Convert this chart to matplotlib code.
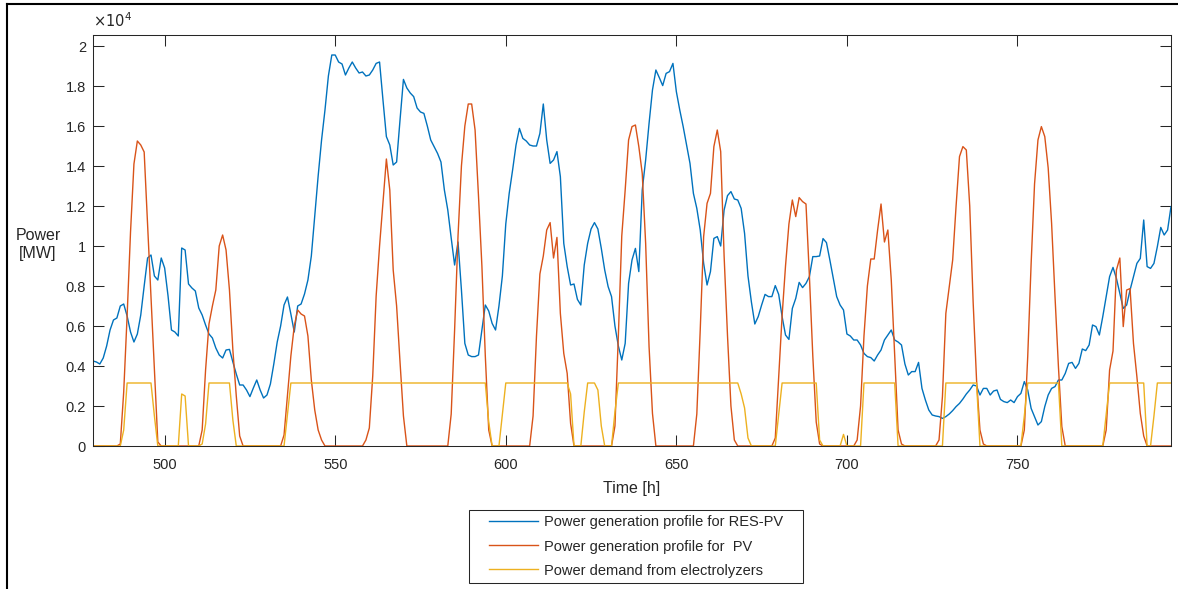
import numpy as np
import matplotlib
matplotlib.use("Agg")
import matplotlib.pyplot as plt
from matplotlib.lines import Line2D
from matplotlib.patches import Rectangle
from matplotlib.ticker import FuncFormatter

plt.rcParams['font.family'] = ['Liberation Sans', 'DejaVu Sans']

# hourly series, 479 h .. 795 h, values in MW
hours = np.arange(479, 796)

res_pv = [
    4250, 4200, 4100, 4400, 5000, 5800, 6300, 6400, 7000, 7100,
    6500, 5700, 5200, 5600, 6550, 8000, 9400, 9550, 8500, 8300,
    9400, 8900, 7500, 5800, 5700, 5500, 9900, 9800, 8100, 7900,
    7750, 6900, 6550, 6050, 5600, 5400, 4900, 4550, 4400, 4800,
    4830, 4200, 3600, 3050, 3050, 2800, 2470, 2900, 3300, 2800,
    2400, 2550, 3100, 4100, 5200, 6000, 7050, 7450, 6600, 5700,
    7000, 7100, 7600, 8300, 9500, 11500, 13500, 15300, 16800, 18500,
    19550, 19550, 19200, 19100, 18550, 18900, 19200, 18900, 18650, 18700,
    18500, 18550, 18800, 19130, 19200, 17300, 15470, 15050, 14050, 14200,
    16300, 18330, 17900, 17650, 17470, 16900, 16700, 16630, 16000, 15300,
    14970, 14630, 14200, 12800, 11800, 10400, 9050, 10200, 7800, 5130,
    4550, 4470, 4470, 4550, 5800, 7050, 6750, 6130, 5800, 7000,
    8500, 11100, 12630, 13800, 15050, 15880, 15380, 15250, 15050, 15000,
    15000, 15630, 17100, 15300, 14130, 14300, 14720, 13470, 10130, 8970,
    8050, 8100, 7330, 7050, 9050, 10130, 10850, 11170, 10850, 9880,
    8800, 7970, 7470, 6000, 5000, 4300, 5130, 8130, 9300, 9880,
    8720, 12800, 14300, 16130, 17800, 18800, 18420, 18020, 18630, 18720,
    19130, 17720, 16800, 15970, 15050, 14130, 12630, 11880, 10800, 9130,
    8050, 8720, 10380, 10470, 10000, 11800, 12520, 12720, 12350, 12300,
    11880, 10630, 8500, 7200, 6100, 6470, 7050, 7580, 7470, 7470,
    8020, 7580, 6470, 5550, 5330, 6880, 7380, 8180, 7920, 8130,
    8470, 9470, 9470, 9500, 10370, 10170, 9300, 8380, 7470, 7050,
    6800, 5600, 5500, 5300, 5300, 5050, 4630, 4470, 4420, 4250,
    4550, 4800, 5300, 5550, 5800, 5300, 5200, 5050, 4100, 3550,
    3720, 3720, 4180, 2880, 2300, 1800, 1550, 1500, 1470, 1380,
    1470, 1600, 1770, 1970, 2130, 2350, 2600, 2800, 3050, 3000,
    2550, 2880, 2880, 2550, 2750, 2800, 2330, 2220, 2170, 2300,
    2170, 2470, 2630, 3220, 2800, 1880, 1470, 1050, 1220, 1970,
    2550, 2880, 2970, 3300, 3300, 3630, 4130, 4180, 3880, 4130,
    4850, 4770, 5050, 6050, 5970, 5550, 6470, 7470, 8470, 8930,
    8380, 7630, 6880, 7050, 7800, 8470, 9130, 9380, 11300, 8970,
    8880, 9130, 9970, 10930, 10550, 10800, 11970,
]

pv = [
    0, 0, 0, 0, 0, 0, 0, 0, 100, 2700,
    6500, 10700, 14100, 15250, 15050, 14700, 11100, 7470, 3850, 200,
    0, 0, 0, 0, 0, 0, 0, 0, 0, 0,
    0, 0, 800, 3800, 6100, 7000, 7800, 10000, 10550, 9800,
    7800, 4800, 2500, 500, 0, 0, 0, 0, 0, 0,
    0, 0, 0, 0, 0, 0, 550, 2500, 4500, 6000,
    6800, 6600, 6500, 5500, 3300, 1800, 800, 300, 0, 0,
    0, 0, 0, 0, 0, 0, 0, 0, 0, 0,
    300, 900, 3500, 7500, 10000, 12200, 14350, 12800, 8800, 7000,
    4200, 1500, 0, 0, 0, 0, 0, 0, 0, 0,
    0, 0, 0, 0, 0, 1600, 5800, 10500, 14000, 16000,
    17100, 17100, 15800, 12500, 9000, 4500, 800, 0, 0, 0,
    0, 0, 0, 0, 0, 0, 0, 0, 0, 1500,
    5500, 8600, 9500, 10800, 11170, 9400, 10430, 6630, 4630, 3630,
    1130, 0, 0, 0, 0, 0, 0, 0, 0, 0,
    0, 0, 0, 1000, 5500, 10500, 12800, 15300, 15970, 16050,
    14970, 13630, 10130, 4970, 1630, 0, 0, 0, 0, 0,
    0, 0, 0, 0, 0, 0, 0, 1600, 5800, 10470,
    12130, 12630, 14970, 15800, 14720, 9500, 5500, 2000, 300, 0,
    0, 0, 0, 0, 0, 0, 0, 0, 0, 0,
    400, 3500, 6500, 9000, 11100, 12300, 11470, 12420, 12220, 12100,
    8500, 4500, 1200, 100, 0, 0, 0, 0, 0, 0,
    0, 0, 0, 0, 300, 2000, 5500, 8000, 9350, 9350,
    10800, 12100, 10200, 10800, 8300, 4500, 800, 100, 0, 0,
    0, 0, 0, 0, 0, 0, 0, 0, 300, 2470,
    6630, 7970, 9300, 12000, 14470, 14970, 14800, 12000, 7200, 3300,
    800, 100, 0, 0, 0, 0, 0, 0, 0, 0,
    0, 0, 0, 800, 4470, 9130, 13100, 15300, 15970, 15470,
    13900, 11130, 7470, 3970, 970, 0, 0, 0, 0, 0,
    0, 0, 0, 0, 0, 0, 0, 800, 3800, 4750,
    8800, 9400, 5970, 7800, 7870, 5130, 3470, 1630, 500, 0,
    0, 0, 0, 0, 0, 0, 0,
]

electrolyzers = [
    0, 0, 0, 0, 0, 0, 0, 0, 0, 800,
    3150, 3150, 3150, 3150, 3150, 3150, 3150, 3150, 1500, 0,
    0, 0, 0, 0, 0, 0, 2600, 2500, 0, 0,
    0, 0, 100, 1100, 3150, 3150, 3150, 3150, 3150, 3150,
    3150, 1300, 0, 0, 0, 0, 0, 0, 0, 0,
    0, 0, 0, 0, 0, 0, 0, 1600, 3150, 3150,
    3150, 3150, 3150, 3150, 3150, 3150, 3150, 3150, 3150, 3150,
    3150, 3150, 3150, 3150, 3150, 3150, 3150, 3150, 3150, 3150,
    3150, 3150, 3150, 3150, 3150, 3150, 3150, 3150, 3150, 3150,
    3150, 3150, 3150, 3150, 3150, 3150, 3150, 3150, 3150, 3150,
    3150, 3150, 3150, 3150, 3150, 3150, 3150, 3150, 3150, 3150,
    3150, 3150, 3150, 3150, 3150, 3150, 1200, 0, 0, 0,
    1600, 3150, 3150, 3150, 3150, 3150, 3150, 3150, 3150, 3150,
    3150, 3150, 3150, 3150, 3150, 3150, 3150, 3150, 3150, 3150,
    2600, 0, 0, 0, 1700, 3150, 3150, 3150, 2800, 1000,
    0, 0, 0, 1700, 3150, 3150, 3150, 3150, 3150, 3150,
    3150, 3150, 3150, 3150, 3150, 3150, 3150, 3150, 3150, 3150,
    3150, 3150, 3150, 3150, 3150, 3150, 3150, 3150, 3150, 3150,
    3150, 3150, 3150, 3150, 3150, 3150, 3150, 3150, 3150, 3150,
    2600, 1900, 400, 0, 0, 0, 0, 0, 0, 0,
    0, 1600, 3150, 3150, 3150, 3150, 3150, 3150, 3150, 3150,
    3150, 3150, 3150, 300, 0, 0, 0, 0, 0, 0,
    580, 0, 0, 0, 0, 0, 3150, 3150, 3150, 3150,
    3150, 3150, 3150, 3150, 3150, 3150, 0, 0, 0, 0,
    0, 0, 0, 0, 0, 0, 0, 0, 0, 0,
    3150, 3150, 3150, 3150, 3150, 3150, 3150, 3150, 3150, 3150,
    0, 0, 0, 0, 0, 0, 0, 0, 0, 0,
    0, 0, 0, 1500, 3150, 3150, 3150, 3150, 3150, 3150,
    3150, 3150, 3150, 3150, 0, 0, 0, 0, 0, 0,
    0, 0, 0, 0, 0, 0, 0, 1600, 3150, 3150,
    3150, 3150, 3150, 3150, 3150, 3150, 3150, 3150, 3150, 0,
    0, 1500, 3150, 3150, 3150, 3150, 3150,
]

labels = ['Power generation profile for RES-PV',
          'Power generation profile for  PV',
          'Power demand from electrolyzers']
colors = ['#0072BD', '#D95319', '#EDB120']
dark = '#262626'

W, H = 1178, 589
fig = plt.figure(figsize=(W / 100, H / 100), dpi=100)
ax = fig.add_axes([93 / W, 1 - 446 / H, (1171 - 93) / W, (446 - 35) / H])

for series, lab, col in zip([res_pv, pv, electrolyzers], labels, colors):
    ax.plot(hours, series, color=col, lw=1.0, label=lab)

ax.set_xlim(479, 795)
ax.set_ylim(0, 20550)
ax.set_xticks(np.arange(500, 751, 50))
ax.set_yticks(np.arange(0, 20001, 2000))
ax.yaxis.set_major_formatter(FuncFormatter(lambda v, p: f'{v / 1e4:g}'))

ax.tick_params(direction='in', length=8, width=0.75, colors=dark,
               labelsize=10.5, top=True, right=True)
ax.tick_params(axis='x', pad=8.6)
ax.tick_params(axis='y', pad=5)
for s in ax.spines.values():
    s.set_color(dark)
    s.set_linewidth(0.75)

ax.text(0.0, 1.012, r'$\times10^{4}$', transform=ax.transAxes,
        fontsize=10.5, color=dark, ha='left', va='bottom')

ax.set_xlabel('Time [h]', fontsize=11.5, color=dark, labelpad=6.5)
ax.set_ylabel('Power\n[MW]', fontsize=11.5, color=dark, rotation=0,
              ha='center', va='center', linespacing=1.3)
ax.yaxis.set_label_coords(-0.051, 0.49)

# legend below the axes, with its own box
leg = ax.legend(loc='center', bbox_to_anchor=(636 / W, 1 - 546.5 / H),
                bbox_transform=fig.transFigure, frameon=False,
                fontsize=10.5, handlelength=3.4, handletextpad=0.4,
                borderpad=0, labelspacing=0.69)
for t in leg.get_texts():
    t.set_color(dark)
fig.add_artist(Rectangle((469 / W, 1 - 583 / H), (803 - 469) / W, (583 - 510) / H,
                         transform=fig.transFigure, fill=False,
                         edgecolor=dark, lw=0.75))

# outer frame along the left and top edges
fig.add_artist(Line2D([6.5 / W, 6.5 / W], [0, 1 - 3.5 / H], color='black', lw=1.5))
fig.add_artist(Line2D([6.5 / W, 1], [1 - 3.5 / H, 1 - 3.5 / H], color='black', lw=1.5))

fig.savefig('out.png', dpi=100)
